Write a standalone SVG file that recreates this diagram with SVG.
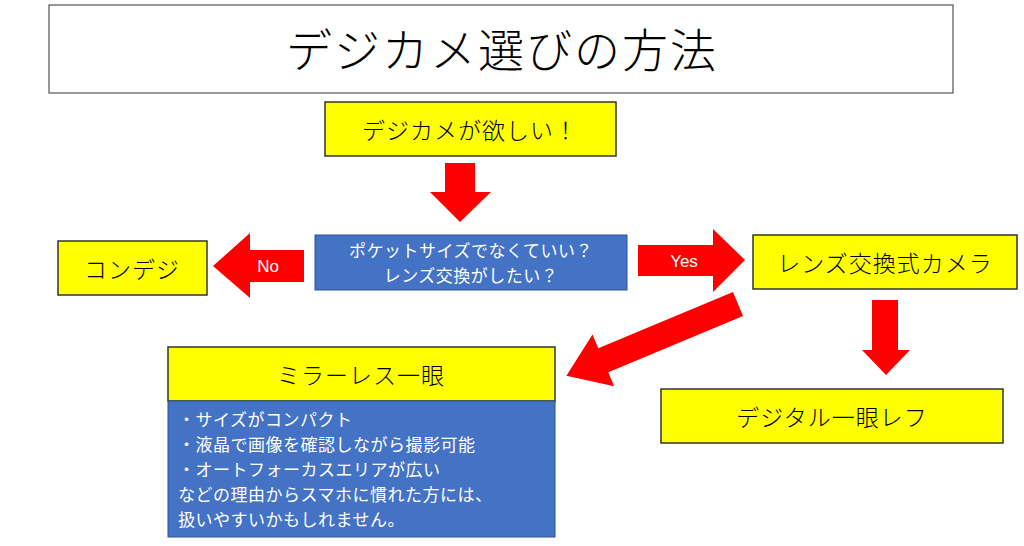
<svg xmlns="http://www.w3.org/2000/svg" width="1024" height="546" viewBox="0 0 1024 546">
<style>
text{font-family:"Noto Sans CJK JP","Noto Sans",sans-serif}
.y{fill:#ffff00;stroke:#333;stroke-width:1.5}
.b{fill:#4472c4;stroke:#2f528f;stroke-width:1}
.t{font-size:23px;font-weight:300;fill:#000;text-anchor:middle;dominant-baseline:central;letter-spacing:1px}
.w{font-size:17px;fill:#fff;letter-spacing:0.5px}
.ar{fill:#ff0000}
</style>
<rect width="1024" height="546" fill="#fff"/>
<g id="title"><rect x="49" y="5" width="904" height="88" fill="#fff" stroke="#333" stroke-width="1"/><text x="502" y="47" class="t" style="font-size:46px;letter-spacing:2px">デジカメ選びの方法</text></g>
<g id="want"><rect class="y" x="325" y="102" width="291" height="54"/><text class="t" x="470" y="129">デジカメが欲しい！</text></g>
<g id="question"><rect class="b" x="315" y="235" width="312" height="55"/><text class="w" x="471" y="249" text-anchor="middle" dominant-baseline="central">ポケットサイズでなくていい？</text><text class="w" x="471" y="274" text-anchor="middle" dominant-baseline="central">レンズ交換がしたい？</text></g>
<g id="compact"><rect class="y" x="58" y="241" width="149" height="54"/><text class="t" x="132" y="268">コンデジ</text></g>
<g id="lens"><rect class="y" x="753" y="235" width="264" height="54"/><text class="t" x="885" y="262">レンズ交換式カメラ</text></g>
<g id="mirrorless"><rect class="y" x="168" y="347" width="387" height="54"/><text class="t" x="361" y="374">ミラーレス一眼</text>
<rect class="b" x="168" y="401" width="387" height="136"/>
<text class="w" x="178" y="426">・サイズがコンパクト</text>
<text class="w" x="178" y="451">・液晶で画像を確認しながら撮影可能</text>
<text class="w" x="178" y="476">・オートフォーカスエリアが広い</text>
<text class="w" x="178" y="501">などの理由からスマホに慣れた方には、</text>
<text class="w" x="178" y="526">扱いやすいかもしれません。</text></g>
<g id="dslr"><rect class="y" x="661" y="389" width="342" height="54"/><text class="t" x="832" y="416">デジタル一眼レフ</text></g>
<g id="connectors">
<polygon class="ar" points="445,163 475,163 475,192 491,192 460,222 430,192 445,192"/>
<polygon class="ar" points="304,250 250,250 250,233 213,266 250,298 250,282 304,282"/>
<text x="268" y="266" fill="#fff" font-size="17" text-anchor="middle" dominant-baseline="central" style="font-family:'Liberation Sans',sans-serif">No</text>
<polygon class="ar" points="638,245 713,245 713,229 745,260 713,292 713,276 638,276"/>
<text x="684" y="261" fill="#fff" font-size="17" text-anchor="middle" dominant-baseline="central" style="font-family:'Liberation Sans',sans-serif">Yes</text>
<polygon class="ar" transform="translate(738,304) rotate(157.3)" points="0,-13 146,-13 146,-28 186,0 146,28 146,13 0,13"/>
<polygon class="ar" points="872,300 898,300 898,350 910,350 886,375 862,350 872,350"/>
</g>
</svg>
